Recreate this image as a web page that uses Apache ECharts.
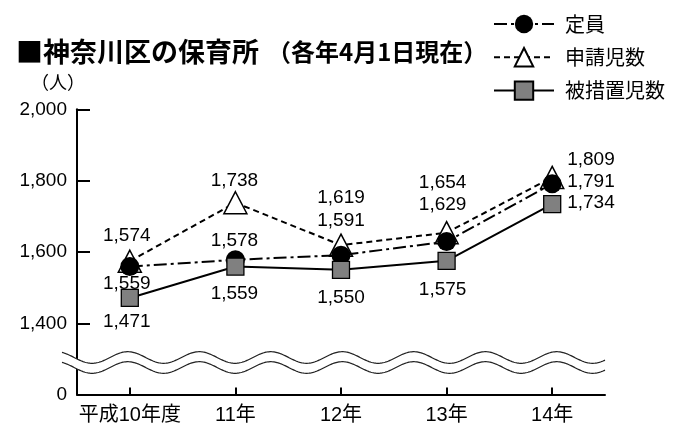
<!DOCTYPE html>
<html><head><meta charset="utf-8">
<script src="https://cdn.jsdelivr.net/npm/echarts@6/dist/echarts.min.js"></script>
<style>html,body{margin:0;padding:0;background:#fff}#c{width:684px;height:427px}</style>
</head><body><div id="c"></div>
<script>
// ---- data ----
const categories = ['平成10年度', '11年', '12年', '13年', '14年'];
const teiin   = [1559, 1578, 1591, 1629, 1791];   // 定員
const shinsei = [1574, 1738, 1619, 1654, 1809];   // 申請児数
const hisochi = [1471, 1559, 1550, 1575, 1734];   // 被措置児数
const yAxisMin = 1200;   // broken-axis position shown as "0"
const yAxisMax = 2000;
const yAxisStep = 200;

// ---- label placement (style, not data) ----
const dxCat = [-3, -1, 0, -4, 15];
const offShinsei = [-25, -22, -47, -50, -18];
const offTeiin   = [17.5, -19, -34, -37, -2];
const offHisochi = [24, 27, 28, 29, -1];

const FONT = 'Liberation Sans, Arial, Noto Sans CJK JP, sans-serif';
const JFONT = 'Noto Sans CJK JP, sans-serif';

function build(values, offs) {
  return values.map((v, i) => ({
    value: v,
    label: {
      show: true,
      position: 'inside',
      align: i === values.length - 1 ? 'left' : 'center',
      offset: [dxCat[i], offs[i]]
    }
  }));
}
const labelBase = {
  show: true, color: '#000', fontSize: 19, fontFamily: FONT,
  formatter: p => p.value.toLocaleString('en-US')
};

const chart = echarts.init(document.getElementById('c'), null, {renderer: 'canvas'});
chart.setOption({
  animation: false,
  backgroundColor: '#fff',
  title: {
    left: 11, top: 32,
    text: '{a|■神奈川区の保育所}{b|（各年4月1日現在）}',
    textStyle: {
      rich: {
        a: {fontSize: 27, fontWeight: 'bold', fontFamily: JFONT, color: '#000', lineHeight: 30},
        b: {fontSize: 24, fontWeight: 'bold', fontFamily: JFONT, color: '#000', lineHeight: 30, padding: [0, 0, 0, 8]}
      }
    }
  },
  legend: {
    orient: 'vertical', left: 488, top: 9,
    itemWidth: 60, itemHeight: 23, itemGap: 13,
    data: ['定員', '申請児数', '被措置児数'],
    textStyle: {fontSize: 20, color: '#000', fontFamily: JFONT, padding: [0, 0, 0, 6]}
  },
  grid: {left: 77, right: 79, top: 109.3, bottom: 32.4, containLabel: false},
  xAxis: {
    type: 'category', data: categories, boundaryGap: true,
    axisLine: {lineStyle: {color: '#000', width: 2}},
    axisTick: {show: true, inside: true, length: 7, alignWithLabel: true, interval: 0, lineStyle: {color: '#000', width: 2}},
    axisLabel: {fontSize: 20, color: '#000', fontFamily: FONT, margin: 11, interval: 0}
  },
  yAxis: {
    type: 'value', min: yAxisMin, max: yAxisMax, interval: yAxisStep,
    axisLine: {show: true, lineStyle: {color: '#000', width: 2}},
    axisTick: {show: true, inside: true, length: 13, lineStyle: {color: '#000', width: 2}},
    splitLine: {show: false},
    axisLabel: {
      fontSize: 19, color: '#000', fontFamily: FONT, margin: 10,
      formatter: v => v === yAxisMin ? '0' : v.toLocaleString('en-US')
    }
  },
  series: [
    {
      name: '申請児数', type: 'line', data: build(shinsei, offShinsei),
      symbol: 'triangle', symbolSize: [23, 22],
      itemStyle: {color: '#fff', borderColor: '#000', borderWidth: 1.5},
      lineStyle: {color: '#000', width: 2, type: [6, 4]},
      label: labelBase, z: 2
    },
    {
      name: '定員', type: 'line', data: build(teiin, offTeiin),
      symbol: 'circle', symbolSize: 19,
      itemStyle: {color: '#000', borderColor: '#000', borderWidth: 0},
      lineStyle: {color: '#000', width: 2, type: [13, 4, 3, 4]},
      label: labelBase, z: 3
    },
    {
      name: '被措置児数', type: 'line', data: build(hisochi, offHisochi),
      symbol: 'rect', symbolSize: 17,
      itemStyle: {color: '#808080', borderColor: '#000', borderWidth: 1.3},
      lineStyle: {color: '#000', width: 2},
      label: labelBase, z: 4
    }
  ]
});

// ---- axis break (wave) and unit label ----
function drawExtras() {
  const cy = chart.convertToPixel({yAxisIndex: 0}, 1290);
  const xr = chart.convertToPixel({xAxisIndex: 0}, categories[0]);
  const x0 = 62, x1 = 605, P = 71.5, A = 5.8, crest = xr - 2;
  const up = [], lo = [];
  for (let x = x0; x <= x1; x += 1) {
    const w = -A * Math.cos(2 * Math.PI * (x - crest) / P);
    up.push([x, cy - 5 + w]);
    lo.push([x, cy + 5 + w]);
  }
  const poly = up.concat(lo.slice().reverse());
  chart.setOption({
    graphic: [
      {type: 'polygon', z: 100, shape: {points: poly}, style: {fill: '#fff', stroke: null}},
      {type: 'polyline', z: 101, shape: {points: up}, style: {stroke: '#222', lineWidth: 1.2, fill: null}},
      {type: 'polyline', z: 101, shape: {points: lo}, style: {stroke: '#222', lineWidth: 1.2, fill: null}},
      {type: 'text', z: 101, left: 31, top: 73,
       style: {text: '（人）', fontSize: 18, fontFamily: JFONT, fill: '#000'}}
    ]
  });
}
drawExtras();
</script>
</body></html>
